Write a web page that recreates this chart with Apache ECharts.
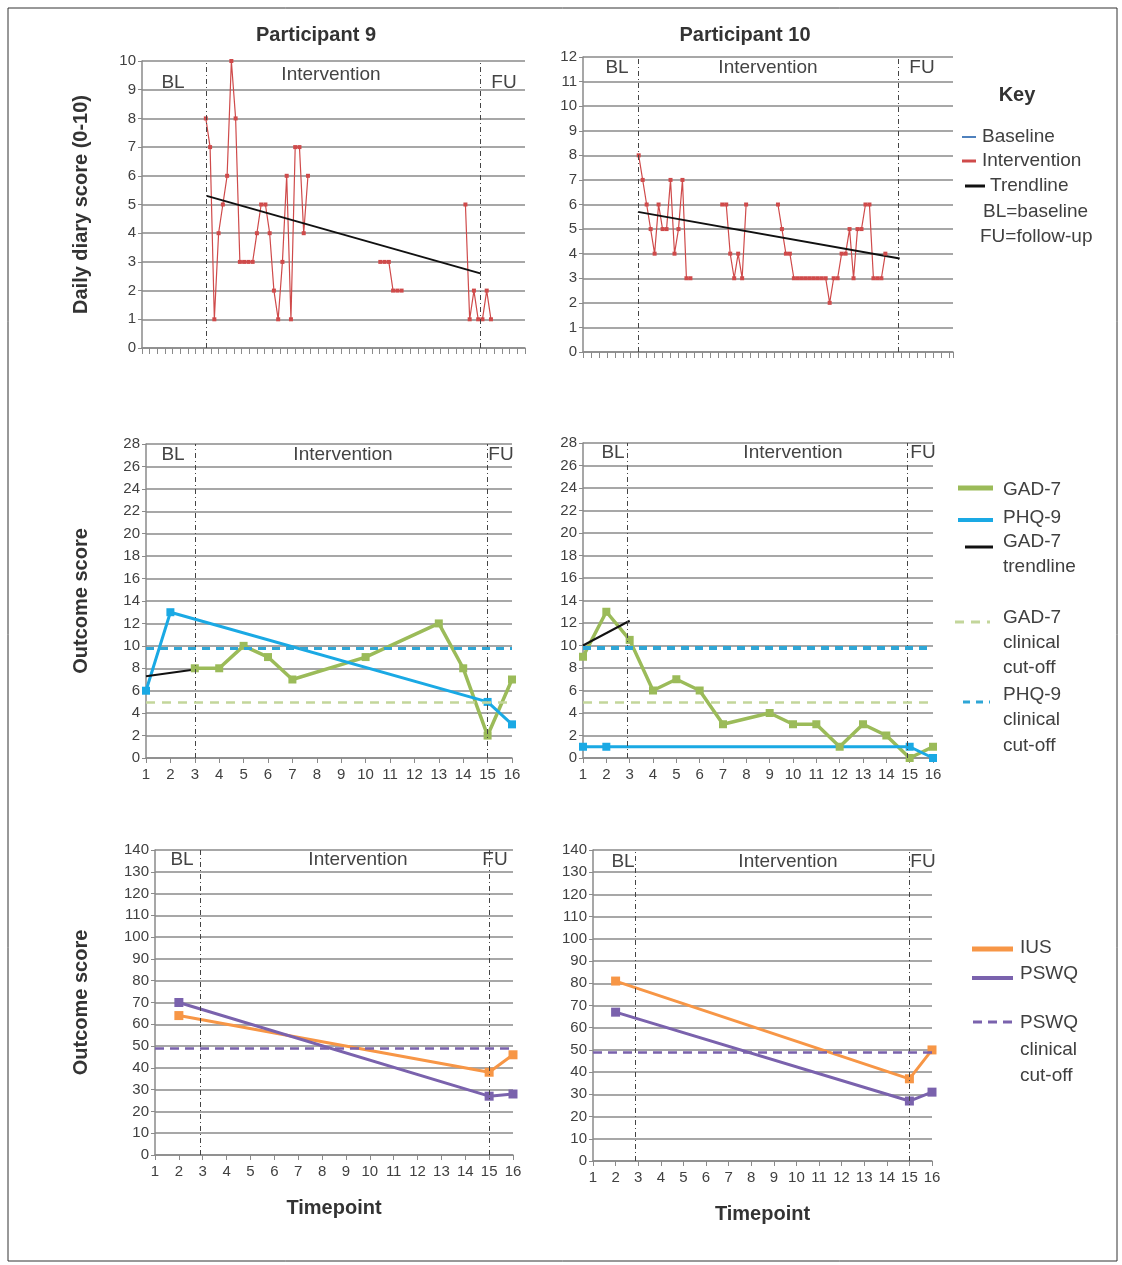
<!DOCTYPE html>
<html>
<head>
<meta charset="utf-8">
<script src="https://cdn.jsdelivr.net/npm/echarts@6/dist/echarts.min.js"></script>
<style>
html,body{margin:0;padding:0;background:#fff;}
#chart{width:1122px;height:1265px;}
</style>
</head>
<body>
<div id="chart"></div>
<script>
// ---------- DATA ----------
// Daily diary (x = day index, y = score 0-10)
const p9DiaryDays   = [15,16,17,18,19,20,21,22,23,24,25,26,27,28,29,30,31,32,33,34,35,36,37,38,39, 56,57,58,59,60,61, 76,77,78,79,80,81,82];
const p9DiaryScores = [8,7,1,4,5,6,10,8,3,3,3,3,4,5,5,4,2,1,3,6,1,7,7,4,6, 3,3,3,2,2,2, 5,1,2,1,1,2,1];
const p9DiaryTrendX = [15.2, 79.5];
const p9DiaryTrendY = [5.3, 2.6];
const p9DiaryPhases = [15.2, 79.5];

const p10DiaryDays   = [14,15,16,17,18,19,20,21,22,23,24,25,26,27, 35,36,37,38,39,40,41,
                        49,50,51,52,53,54,55,56,57,58,59,60,61,62,63,64,65,66,67,68,69,70,71,72,73,74,75,76];
const p10DiaryScores = [8,7,6,5,4,6,5,5,7,4,5,7,3,3, 6,6,4,3,4,3,6,
                        6,5,4,4,3,3,3,3,3,3,3,3,3,2,3,3,4,4,5,3,5,5,6,6,3,3,3,4];
const p10DiaryTrendX = [13.8, 79.6];
const p10DiaryTrendY = [5.7, 3.8];
const p10DiaryPhases = [13.8, 79.2];

// Outcome measures (timepoints 1-16)
const timepoints = [1,2,3,4,5,6,7,8,9,10,11,12,13,14,15,16];
const p9GAD7  = [null,null,8,8,10,9,7,null,null,9,null,null,12,8,2,7];
const p9PHQ9  = [6,13,null,null,null,null,null,null,null,null,null,null,null,null,5,3];
const p9GAD7TrendX = [1,3];
const p9GAD7TrendY = [7.3,7.9];
const p10GAD7 = [9,13,10.5,6,7,6,3,null,4,3,3,1,3,2,0,1];
const p10PHQ9 = [1,1,null,null,null,null,null,null,null,null,null,null,null,null,1,0];
const p10GAD7TrendX = [1,3];
const p10GAD7TrendY = [10,12.2];
const gad7Cutoff = 5;
const phq9Cutoff = 9.8;
const p9OutcomePhases  = [3, 15];
const p10OutcomePhases = [2.9, 14.9];

const p9IUS   = [null,64,null,null,null,null,null,null,null,null,null,null,null,null,38,46];
const p9PSWQ  = [null,70,null,null,null,null,null,null,null,null,null,null,null,null,27,28];
const p10IUS  = [null,81,null,null,null,null,null,null,null,null,null,null,null,null,37,50];
const p10PSWQ = [null,67,null,null,null,null,null,null,null,null,null,null,null,null,27,31];
const pswqCutoff = 49;
const p9WorryPhases  = [2.9, 15];
const p10WorryPhases = [2.85, 15];

// ---------- HELPERS ----------
const FONT = 'Liberation Sans, Arial, sans-serif';
const TXT = '#404040';
const GRID = '#8a8a8a';
const C = {red:'#cf4a4a', green:'#9bbb59', blue:'#1aa9e4', orange:'#f79646', purple:'#7a62ad',
           gcut:'#c3d69b', bcut:'#2ea6d6', pcut:'#7a62ad', blBlue:'#4f81bd'};

function diaryData(days, scores){
  const out=[];
  for(let i=0;i<days.length;i++){
    if(i>0 && days[i]-days[i-1]>1) out.push([days[i-1]+1,'-']);
    out.push([days[i],scores[i]]);
  }
  return out;
}
function pairs(vals){
  const out=[];
  vals.forEach((v,i)=>{ if(v!==null) out.push([timepoints[i],v]); });
  return out;
}
function zip(xs,ys){ return xs.map((x,i)=>[x,ys[i]]); }

function phaseLines(xs){
  return {silent:true, symbol:'none', label:{show:false},
    lineStyle:{color:'#444', type:[5,3,1,3], width:1},
    data: xs.map(x=>({xAxis:x}))};
}

function yAxis(gi,max,interval,name,nameGap){
  return {type:'value', gridIndex:gi, min:0, max:max, interval:interval,
    axisLine:{show:true, lineStyle:{color:GRID, width:1.5}},
    axisTick:{show:true, length:4, lineStyle:{color:GRID}},
    axisLabel:{color:TXT, fontSize:15, fontFamily:FONT, margin:6},
    splitLine:{show:true, lineStyle:{color:GRID, width:1.5}},
    name:name||'', nameLocation:'middle', nameGap:nameGap||50,
    nameTextStyle:{color:'#333', fontSize:20, fontWeight:'bold', fontFamily:FONT}};
}
function diaryX(gi,max,interval){
  return {type:'value', gridIndex:gi, min:0, max:max, interval:interval,
    axisLine:{show:true, lineStyle:{color:GRID, width:1.5}},
    axisTick:{show:true, length:6, lineStyle:{color:GRID}},
    axisLabel:{show:false}, splitLine:{show:false}};
}
function outcomeX(gi,name){
  return {type:'value', gridIndex:gi, min:1, max:16, interval:1,
    axisLine:{show:true, lineStyle:{color:GRID, width:1.5}},
    axisTick:{show:true, length:5, lineStyle:{color:GRID}},
    axisLabel:{color:TXT, fontSize:15, fontFamily:FONT, margin:9},
    splitLine:{show:false},
    name:name||'', nameLocation:'middle', nameGap:43,
    nameTextStyle:{color:'#333', fontSize:20, fontWeight:'bold', fontFamily:FONT}};
}

function lineSeries(gi,data,color,width,symSize,extra){
  return Object.assign({type:'line', xAxisIndex:gi, yAxisIndex:gi, data:data,
    lineStyle:{color:color, width:width}, itemStyle:{color:color},
    symbol:'rect', symbolSize:symSize, showSymbol:symSize>0, animation:false}, extra||{});
}

// ---------- TEXT (labels / legend) ----------
function txt(x,y,s,opts){
  return Object.assign({type:'text', x:x, y:y, silent:true,
    style:Object.assign({text:s, fill:TXT, font:'19px '+FONT, textAlign:'left', textVerticalAlign:'middle'}, (opts||{}))});
}
function seg(x1,y1,x2,y2,color,w,dash){
  return {type:'line', silent:true, shape:{x1:x1,y1:y1,x2:x2,y2:y2},
    style:{stroke:color, lineWidth:w, lineDash:dash||null}};
}
function phaseText(list){
  return list.map(p=>txt(p[0],p[1],p[2],{textAlign:'center', font:'19px '+FONT, fill:'#444'}));
}

const graphics = [].concat(
  [{type:'rect', silent:true, shape:{x:8,y:8,width:1109,height:1253}, style:{fill:null, stroke:'#333', lineWidth:1}}],
  [txt(316,35,'Participant 9',{textAlign:'center', font:'bold 20px '+FONT, fill:'#333'}),
   txt(745,35,'Participant 10',{textAlign:'center', font:'bold 20px '+FONT, fill:'#333'})],
  phaseText([[173,83,'BL'],[331,75,'Intervention'],[504,83,'FU'],
             [617,68,'BL'],[768,68,'Intervention'],[922,68,'FU'],
             [173,455,'BL'],[343,455,'Intervention'],[501,455,'FU'],
             [613,453,'BL'],[793,453,'Intervention'],[923,453,'FU'],
             [182,860,'BL'],[358,860,'Intervention'],[495,860,'FU'],
             [623,862,'BL'],[788,862,'Intervention'],[923,862,'FU']]),
  // Key
  [txt(1017,95,'Key',{textAlign:'center', font:'bold 20px '+FONT, fill:'#333'}),
   seg(962,137,976,137,C.blBlue,2), txt(982,137,'Baseline'),
   seg(962,161,976,161,C.red,3), txt(982,161,'Intervention'),
   seg(965,186,985,186,'#111',3), txt(990,186,'Trendline'),
   txt(983,212,'BL=baseline'), txt(980,237,'FU=follow-up')],
  // Middle legend
  [seg(958,488,993,488,C.green,5), txt(1003,490,'GAD-7'),
   seg(958,520,993,520,C.blue,4), txt(1003,518,'PHQ-9'),
   seg(965,547,993,547,'#111',3), txt(1003,542,'GAD-7'), txt(1003,567,'trendline'),
   seg(955,622,990,622,C.gcut,3,[9,7]), txt(1003,618,'GAD-7'), txt(1003,643,'clinical'), txt(1003,668,'cut-off'),
   seg(963,702,990,702,C.bcut,3,[7,6]), txt(1003,695,'PHQ-9'), txt(1003,720,'clinical'), txt(1003,746,'cut-off')],
  // Bottom legend
  [seg(972,949,1013,949,C.orange,5), txt(1020,948,'IUS'),
   seg(972,978,1013,978,C.purple,4), txt(1020,974,'PSWQ'),
   seg(973,1022,1013,1022,C.pcut,3,[9,6]), txt(1020,1023,'PSWQ'), txt(1020,1050,'clinical'), txt(1020,1076,'cut-off')]
);

// ---------- OPTION ----------
const option = {
  animation:false,
  backgroundColor:'#fff',
  textStyle:{fontFamily:FONT},
  grid:[
    {left:142, top:61, width:383, height:287},
    {left:583, top:57, width:370, height:295},
    {left:146, top:444, width:366, height:314},
    {left:583, top:443, width:350, height:315},
    {left:155, top:850, width:358, height:305},
    {left:593, top:850, width:339, height:311}
  ],
  xAxis:[
    diaryX(0,90,1.8),
    diaryX(1,93,2),
    outcomeX(2),
    outcomeX(3),
    outcomeX(4,'Timepoint'),
    outcomeX(5,'Timepoint')
  ],
  yAxis:[
    yAxis(0,10,1,'Daily diary score (0-10)',51),
    yAxis(1,12,1),
    yAxis(2,28,2,'Outcome score',55),
    yAxis(3,28,2),
    yAxis(4,140,10,'Outcome score',64),
    yAxis(5,140,10)
  ],
  series:[
    // Participant 9 diary
    lineSeries(0, diaryData(p9DiaryDays,p9DiaryScores), C.red, 1.2, 4, {markLine:phaseLines(p9DiaryPhases)}),
    lineSeries(0, zip(p9DiaryTrendX,p9DiaryTrendY), '#111', 2, 0),
    // Participant 10 diary
    lineSeries(1, diaryData(p10DiaryDays,p10DiaryScores), C.red, 1.2, 4, {markLine:phaseLines(p10DiaryPhases)}),
    lineSeries(1, zip(p10DiaryTrendX,p10DiaryTrendY), '#111', 2, 0),
    // Participant 9 outcomes
    lineSeries(2, pairs(p9GAD7), C.green, 3.5, 8, {markLine:phaseLines(p9OutcomePhases)}),
    lineSeries(2, [], C.gcut, 2, 0, {markLine:{silent:true, symbol:'none', label:{show:false},
      lineStyle:{color:C.gcut, type:[9,7], width:2.5}, data:[{yAxis:gad7Cutoff}]}}),
    lineSeries(2, [], C.bcut, 3, 0, {markLine:{silent:true, symbol:'none', label:{show:false},
      lineStyle:{color:C.bcut, type:[8,6], width:3}, data:[{yAxis:phq9Cutoff}]}}),
    lineSeries(2, pairs(p9PHQ9), C.blue, 3, 8),
    lineSeries(2, zip(p9GAD7TrendX,p9GAD7TrendY), '#111', 2, 0),
    // Participant 10 outcomes
    lineSeries(3, pairs(p10GAD7), C.green, 3.5, 8, {markLine:phaseLines(p10OutcomePhases)}),
    lineSeries(3, [], C.gcut, 2, 0, {markLine:{silent:true, symbol:'none', label:{show:false},
      lineStyle:{color:C.gcut, type:[9,7], width:2.5}, data:[{yAxis:gad7Cutoff}]}}),
    lineSeries(3, [], C.bcut, 3, 0, {markLine:{silent:true, symbol:'none', label:{show:false},
      lineStyle:{color:C.bcut, type:[8,6], width:4}, data:[{yAxis:phq9Cutoff}]}}),
    lineSeries(3, pairs(p10PHQ9), C.blue, 3, 8),
    lineSeries(3, zip(p10GAD7TrendX,p10GAD7TrendY), '#111', 2, 0),
    // Participant 9 worry measures
    lineSeries(4, pairs(p9IUS), C.orange, 3, 9, {markLine:phaseLines(p9WorryPhases)}),
    lineSeries(4, pairs(p9PSWQ), C.purple, 3, 9, {markLine:{silent:true, symbol:'none', label:{show:false},
      lineStyle:{color:C.pcut, type:[9,6], width:2.5}, data:[{yAxis:pswqCutoff}]}}),
    // Participant 10 worry measures
    lineSeries(5, pairs(p10IUS), C.orange, 3, 9, {markLine:phaseLines(p10WorryPhases)}),
    lineSeries(5, pairs(p10PSWQ), C.purple, 3, 9, {markLine:{silent:true, symbol:'none', label:{show:false},
      lineStyle:{color:C.pcut, type:[9,6], width:2.5}, data:[{yAxis:pswqCutoff}]}})
  ],
  graphic: graphics
};

const chart = echarts.init(document.getElementById('chart'), null, {renderer:'canvas'});
chart.setOption(option);
</script>
</body>
</html>
